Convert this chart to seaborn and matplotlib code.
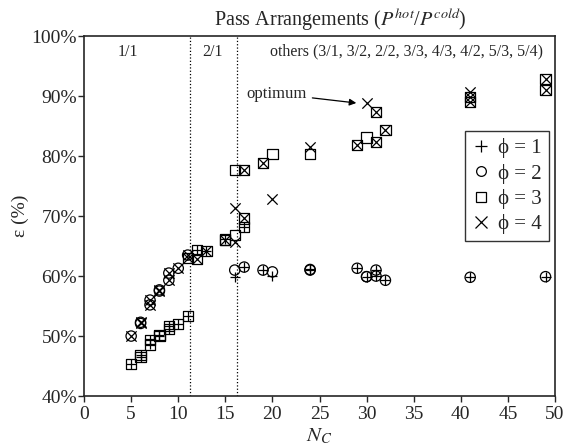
import matplotlib
matplotlib.use("Agg")
import matplotlib.pyplot as plt
import seaborn as sns
import pandas as pd
from matplotlib.lines import Line2D

# ---------------- data ----------------
nc_phi1 = [5, 6, 6, 7, 7, 8, 8, 9, 9, 10, 11,
           12, 13, 15,
           16, 17, 17, 19, 20, 24, 24, 29, 30, 31, 31, 32, 41, 49]
eff_phi1 = [45.4, 46.5, 46.8, 48.6, 49.3, 50.0, 50.2, 51.2, 51.7, 52.0, 53.3,
            64.3, 64.2, 66.1,
            59.9, 61.5, 68.2, 61.0, 60.0, 61.1, 61.0, 61.3, 59.9, 61.0, 60.0, 59.3, 59.8, 59.9]

nc_phi2 = [5, 6, 6, 7, 7, 8, 8, 9, 9, 10, 11,
           16, 17, 19, 20, 24, 24, 29, 30, 30, 31, 31, 32, 41, 49]
eff_phi2 = [50.0, 52.3, 52.1, 55.2, 56.0, 57.5, 57.7, 59.3, 60.5, 61.3, 63.5,
            61.0, 61.5, 61.0, 60.7, 61.1, 61.0, 61.3, 59.9, 59.9, 61.0, 60.0, 59.3, 59.8, 59.9]

nc_phi3 = [5, 6, 6, 7, 7, 8, 8, 9, 9, 10, 11,
           11, 12, 12, 13, 15, 15, 16,
           16, 17, 17, 17, 19, 20, 24, 29, 30, 31, 31, 32, 41, 41, 49, 49]
eff_phi3 = [45.4, 46.5, 46.8, 48.6, 49.3, 50.0, 50.2, 51.2, 51.7, 52.0, 53.3,
            63.0, 64.3, 62.9, 64.2, 66.0, 66.1, 66.8,
            77.7, 77.7, 69.6, 68.2, 78.9, 80.4, 80.3, 81.8, 83.1, 82.4, 87.4, 84.3, 89.0, 89.9, 91.0, 92.8]

nc_phi4 = [5, 6, 6, 7, 7, 8, 8, 9, 9, 10, 11,
           11, 12, 13, 15, 16,
           16, 17, 17, 19, 20, 24, 29, 30, 31, 31, 32, 41, 41, 41, 49, 49]
eff_phi4 = [50.0, 52.3, 52.1, 55.2, 56.0, 57.5, 57.7, 59.3, 60.5, 61.3, 63.5,
            63.0, 62.9, 64.2, 66.0, 65.7,
            71.3, 77.7, 69.6, 78.9, 72.8, 81.5, 81.8, 88.8, 82.4, 87.4, 84.3, 89.0, 89.9, 90.7, 91.0, 92.8]

phi_labels = ["ϕ = 1", "ϕ = 2", "ϕ = 3", "ϕ = 4"]
region_labels = ["1/1", "2/1", "others (3/1, 3/2, 2/2, 3/3, 4/3, 4/2, 5/3, 5/4)"]
region_bounds = [11.25, 16.25]
y_ticks = [40, 50, 60, 70, 80, 90, 100]
x_ticks = [0, 5, 10, 15, 20, 25, 30, 35, 40, 45, 50]
optimum_point = (30, 88.8)

# ---------------- style ----------------
sns.set_style("ticks")
plt.rcParams["font.family"] = ["Liberation Serif", "DejaVu Serif"]
plt.rcParams["mathtext.fontset"] = "stix"
plt.rcParams["axes.linewidth"] = 1.2

fig, ax = plt.subplots(figsize=(5.68, 4.46), dpi=100)
fig.subplots_adjust(left=0.148, right=0.977, top=0.919, bottom=0.112)

df1 = pd.DataFrame({"nc": nc_phi1, "eff": eff_phi1})
df2 = pd.DataFrame({"nc": nc_phi2, "eff": eff_phi2})
df3 = pd.DataFrame({"nc": nc_phi3, "eff": eff_phi3})
df4 = pd.DataFrame({"nc": nc_phi4, "eff": eff_phi4})

ms = 55
sns.scatterplot(data=df1, x="nc", y="eff", marker="+", color="black", s=ms, linewidth=0.9, ax=ax)
sns.scatterplot(data=df2, x="nc", y="eff", marker="o", facecolors="none", edgecolor="black", s=ms, linewidth=0.9, ax=ax)
sns.scatterplot(data=df3, x="nc", y="eff", marker="s", facecolors="none", edgecolor="black", s=ms, linewidth=0.9, ax=ax)
sns.scatterplot(data=df4, x="nc", y="eff", marker="x", color="black", s=ms, linewidth=0.9, ax=ax)

for b in region_bounds:
    ax.axvline(b, color="black", linestyle=":", linewidth=0.9)

ax.set_xlim(0, 50)
ax.set_ylim(40, 100)
ax.set_xticks(x_ticks)
ax.set_yticks(y_ticks)
ax.set_yticklabels([f"{v}%" for v in y_ticks])
ax.tick_params(direction="out", length=4, width=1.0, labelsize=14)
ax.tick_params(axis="x", pad=3)
ax.tick_params(axis="y", pad=1)
for s in ["top", "right"]:
    ax.spines[s].set_visible(True)

ax.set_xlabel("$N_C$", fontsize=15, labelpad=3)
ax.set_ylabel("ε (%)", fontsize=14, labelpad=2)

ax.text(4.7, 97.4, region_labels[0], ha="center", va="center", fontsize=11.5)
ax.text(13.6, 97.4, region_labels[1], ha="center", va="center", fontsize=11.5)
ax.text(34.2, 97.4, region_labels[2], ha="center", va="center", fontsize=11.5)

fig.text(0.60, 0.955, "Pass Arrangements ($P^{hot}$/$P^{cold}$)", ha="center", va="center", fontsize=14.5)

ax.annotate("optimum", xy=(optimum_point[0] - 0.8, optimum_point[1]), xytext=(23.6, 90.4),
            ha="right", va="center", fontsize=12,
            arrowprops=dict(arrowstyle="-|>", color="black", lw=0.9, mutation_scale=10))

handles = [
    Line2D([], [], marker="+", linestyle="none", color="black", markersize=8, markeredgewidth=0.9),
    Line2D([], [], marker="o", linestyle="none", markerfacecolor="none", markeredgecolor="black", markersize=7, markeredgewidth=0.9),
    Line2D([], [], marker="s", linestyle="none", markerfacecolor="none", markeredgecolor="black", markersize=7, markeredgewidth=0.9),
    Line2D([], [], marker="x", linestyle="none", color="black", markersize=8, markeredgewidth=0.9),
]
leg = ax.legend(handles, phi_labels, loc="upper right", bbox_to_anchor=(0.987, 0.736),
                borderaxespad=0.0,
                fontsize=15, frameon=True, fancybox=False, edgecolor="black",
                handlelength=0.8, handletextpad=0.4, borderpad=0.35, labelspacing=0.25)
leg.get_frame().set_linewidth(1.0)

fig.savefig("out.png", dpi=100)
